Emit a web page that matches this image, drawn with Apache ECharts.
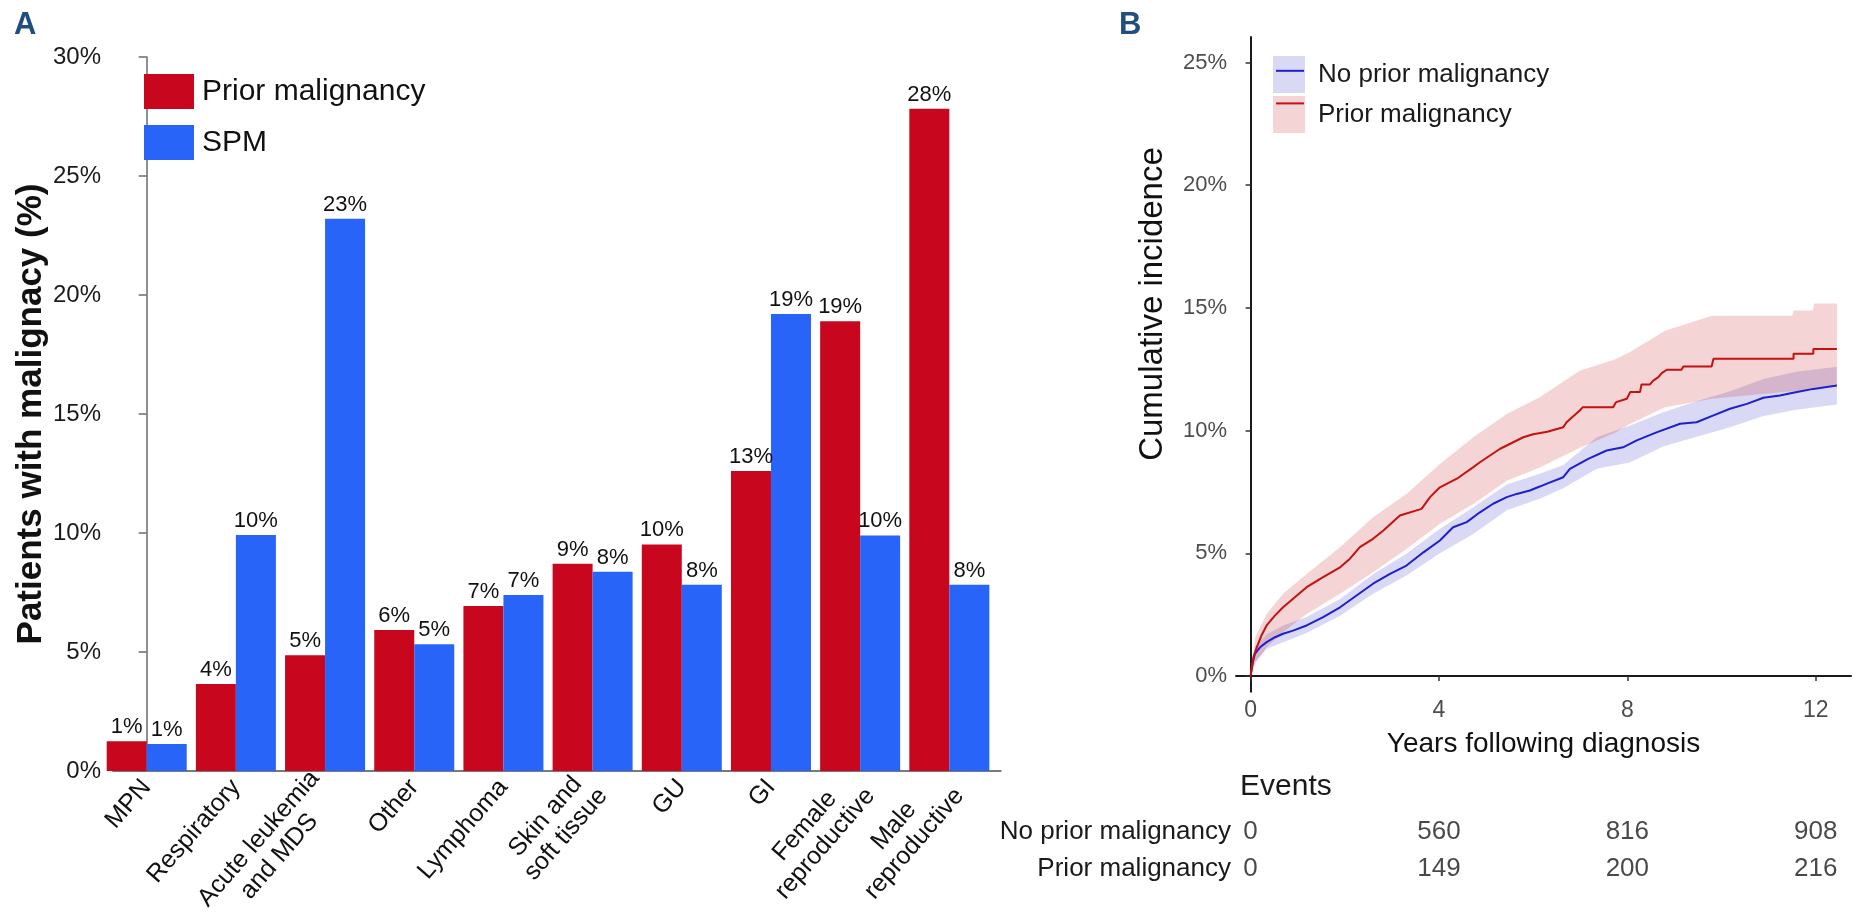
<!DOCTYPE html>
<html>
<head>
<meta charset="utf-8">
<style>
  html, body { margin: 0; padding: 0; width: 100%; height: 100%; overflow: hidden; background: #fff; }
  .panel { position: absolute; left: 0; top: 0; width: 1868px; height: 923px; }
</style>
<script src="https://cdn.jsdelivr.net/npm/echarts@6/dist/echarts.min.js"></script>
</head>
<body>
<div id="chartA" class="panel"></div>
<div id="chartB" class="panel"></div>
<script>
// ---- panel A data ----
const categories = ['MPN', 'Respiratory', 'Acute leukemia\nand MDS', 'Other', 'Lymphoma',
  'Skin and\nsoft tissue', 'GU', 'GI', 'Female\nreproductive', 'Male\nreproductive'];
const priorPct = [1.25, 3.66, 4.86, 5.92, 6.93, 8.71, 9.52, 12.61, 18.9, 27.83];
const spmPct = [1.13, 9.92, 23.2, 5.33, 7.40, 8.37, 7.83, 19.2, 9.9, 7.83];
const barTicks = [0, 5, 10, 15, 20, 25, 30];

// ---- panel B data ----
const yearTicks = [0, 4, 8, 12];
const incTicks = [0, 5, 10, 15, 20, 25];
// [years, cumulative incidence %]
const noPriorCurve = [
  [0, 0], [0.04, 0.5], [0.09, 0.9], [0.2, 1.17], [0.34, 1.38], [0.52, 1.58], [0.69, 1.72],
  [0.9, 1.85], [1.19, 2.06], [1.54, 2.4], [1.9, 2.8], [2.25, 3.28], [2.6, 3.76], [2.96, 4.16],
  [3.31, 4.5], [3.67, 5.04], [4.02, 5.52], [4.3, 6.06], [4.59, 6.27], [4.87, 6.67], [5.15, 7.02],
  [5.44, 7.29], [5.65, 7.42], [5.93, 7.56], [6.14, 7.72], [6.28, 7.83], [6.64, 8.1], [6.78, 8.44],
  [7.17, 8.85], [7.56, 9.19], [7.91, 9.32], [8.2, 9.6], [8.62, 9.93], [9.12, 10.28], [9.47, 10.34],
  [9.83, 10.62], [10.18, 10.89], [10.54, 11.09], [10.89, 11.34], [11.24, 11.43], [11.6, 11.57],
  [11.95, 11.7], [12.45, 11.84]
];
const priorCurve = [
  [0, 0], [0.06, 0.77], [0.13, 1.17], [0.23, 1.65], [0.34, 2.06], [0.52, 2.47], [0.69, 2.8],
  [0.94, 3.21], [1.19, 3.62], [1.54, 4.03], [1.9, 4.43], [2.11, 4.78], [2.32, 5.25], [2.6, 5.59],
  [2.82, 5.93], [3.17, 6.54], [3.63, 6.81], [3.81, 7.29], [4.02, 7.69], [4.38, 8.04], [4.73, 8.51],
  [4.87, 8.71], [5.3, 9.26], [5.79, 9.73], [6.0, 9.85], [6.3, 9.95], [6.64, 10.14], [6.71, 10.34],
  [6.99, 10.82], [7.05, 10.95], [7.7, 10.95], [7.76, 11.16], [7.99, 11.3], [8.06, 11.57],
  [8.27, 11.57], [8.3, 11.88], [8.48, 11.88], [8.55, 12.04], [8.66, 12.18], [8.73, 12.34],
  [8.84, 12.48], [9.15, 12.48], [9.19, 12.61], [9.79, 12.61], [9.83, 12.93], [11.53, 12.93],
  [11.53, 13.13], [11.95, 13.13], [11.95, 13.33], [12.45, 13.33]
];
// [years, lower %, upper %]
const noPriorBand = [
  [0, 0, 0], [0.1, 0.6, 1.2], [0.34, 1.1, 1.7], [0.69, 1.38, 2.06], [1.19, 1.75, 2.4],
  [1.9, 2.46, 3.14], [2.6, 3.35, 4.15], [3.31, 4.1, 4.98], [4.02, 5.0, 6.0], [4.73, 5.79, 6.88],
  [5.44, 6.75, 7.8], [6.14, 7.22, 8.24], [6.64, 7.65, 8.6], [7.35, 8.45, 9.73], [8.05, 8.7, 10.2],
  [8.76, 9.35, 10.75], [9.47, 9.75, 11.2], [10.18, 10.14, 11.6], [10.89, 10.6, 12.1],
  [11.59, 10.85, 12.4], [12.45, 11.06, 12.6]
];
const priorBand = [
  [0, 0, 0], [0.1, 0.5, 1.6], [0.34, 1.17, 2.53], [0.69, 1.78, 3.35], [1.19, 2.53, 4.16],
  [1.9, 3.35, 5.25], [2.6, 4.23, 6.47], [3.31, 5.18, 7.42], [4.02, 6.2, 8.64], [4.73, 7.01, 9.73],
  [5.44, 7.96, 10.68], [6.14, 8.5, 11.36], [6.99, 9.3, 12.44], [7.73, 9.9, 12.9], [8.05, 10.27, 13.19],
  [8.8, 10.95, 14.07], [9.5, 11.2, 14.5], [9.8, 11.3, 14.68], [11.5, 11.6, 14.68], [11.53, 11.6, 14.89],
  [11.94, 11.7, 14.89], [11.97, 11.7, 15.18], [12.45, 11.8, 15.18]
];
const eventRows = ['No prior malignancy', 'Prior malignancy'];
const eventsNoPrior = [0, 560, 816, 908];
const eventsPrior = [0, 149, 200, 216];

const FONT = 'Liberation Sans, Arial, sans-serif';
const RED = '#C8071E';
const BLUE = '#2864F8';
const LINE_BLUE = '#1F1FCC';
const LINE_RED = '#C41212';
const FILL_BLUE = 'rgba(31, 31, 204, 0.17)';
const FILL_RED = 'rgba(196, 18, 18, 0.18)';

// ================= panel A =================
var chartA = echarts.init(document.getElementById('chartA'), null, { renderer: 'canvas' });

var optionA = {
  animation: false,
  textStyle: { fontFamily: FONT },
  title: {
    text: 'A', left: 14, top: 10, padding: 0,
    textStyle: { fontSize: 31, fontWeight: 'bold', color: '#1F4E7F', fontFamily: FONT }
  },
  legend: {
    data: ['Prior malignancy', 'SPM'],
    orient: 'vertical', left: 144, top: 74, padding: 0,
    icon: 'rect', itemWidth: 50, itemHeight: 35, itemGap: 16,
    selectedMode: false,
    textStyle: { fontSize: 30, color: '#111', fontFamily: FONT, padding: [0, 0, 0, 3] }
  },
  grid: { left: 113, top: 57, width: 887.7, height: 714, outerBoundsMode: 'none', containLabel: false },
  xAxis: {
    type: 'value', min: -0.378, max: 9.576,
    splitLine: { show: false },
    axisTick: { show: false },
    axisLine: { show: true, lineStyle: { color: '#7a7a7a', width: 2 } },
    axisLabel: {
      customValues: categories.map((c, i) => i),
      rotate: 49, margin: 12,
      formatter: function (v) {
        const name = categories[Math.round(v)];
        if (name === undefined) return '';
        return name.split('\n').map(s => '{c|' + s + '}').join('\n');
      },
      rich: { c: { align: 'center', fontSize: 25, lineHeight: 27, color: '#111', fontFamily: FONT } }
    }
  },
  yAxis: {
    type: 'value', min: 0, max: 30, interval: 5,
    splitLine: { show: false },
    axisLine: { show: true, lineStyle: { color: '#6b6b6b', width: 1.5 } },
    axisTick: { show: true, length: 8, lineStyle: { color: '#6b6b6b', width: 1.5 } },
    axisLabel: {
      customValues: barTicks,
      formatter: '{value}%', fontSize: 24, color: '#1a1a1a', margin: 12, fontFamily: FONT
    },
    name: 'Patients with malignacy (%)', nameLocation: 'middle', nameGap: 64,
    nameTextStyle: { fontSize: 35, fontWeight: 'bold', color: '#111', fontFamily: FONT }
  },
  series: [
    {
      name: 'Prior malignancy', type: 'bar', barWidth: 40, barGap: '0%', clip: true,
      itemStyle: { color: RED },
      data: priorPct.map((v, i) => [i, v]),
      label: {
        show: true, position: 'top', distance: 3, fontSize: 22, color: '#111', fontFamily: FONT,
        formatter: p => Math.round(p.value[1]) + '%'
      }
    },
    {
      name: 'SPM', type: 'bar', barWidth: 40, barGap: '0%', clip: true,
      itemStyle: { color: BLUE },
      data: spmPct.map((v, i) => [i, v]),
      label: {
        show: true, position: 'top', distance: 3, fontSize: 22, color: '#111', fontFamily: FONT,
        formatter: p => Math.round(p.value[1]) + '%'
      }
    }
  ]
};
chartA.setOption(optionA);

// ================= panel B =================
var chartB = echarts.init(document.getElementById('chartB'), null, { renderer: 'canvas' });

// confidence band drawn as one polygon through the axis scales
function bandSeries(name, band, fill) {
  return {
    name: name, type: 'custom', silent: true, clip: true,
    xAxisIndex: 0, yAxisIndex: 0,
    data: [[0, 0]],
    encode: { x: 0, y: 1 },
    renderItem: function (params, api) {
      const upper = band.map(d => api.coord([d[0], d[2]]));
      const lower = band.slice().reverse().map(d => api.coord([d[0], d[1]]));
      return {
        type: 'polygon',
        shape: { points: upper.concat(lower) },
        style: { fill: fill }
      };
    }
  };
}

var eventData = [];
yearTicks.forEach((yr, i) => {
  eventData.push([yr, eventRows[0], eventsNoPrior[i]]);
  eventData.push([yr, eventRows[1], eventsPrior[i]]);
});

var optionB = {
  animation: false,
  textStyle: { fontFamily: FONT },
  title: [
    {
      text: 'B', left: 1119, top: 10, padding: 0,
      textStyle: { fontSize: 31, fontWeight: 'bold', color: '#1F4E7F', fontFamily: FONT }
    },
    {
      text: 'Events', left: 1240, top: 772, padding: 0,
      textStyle: { fontSize: 30, fontWeight: 'normal', color: '#1a1a1a', fontFamily: FONT }
    }
  ],
  legend: [
    {
      data: [
        { name: 'No prior malignancy', icon: 'rect', itemStyle: { color: FILL_BLUE } },
        { name: 'Prior malignancy', icon: 'rect', itemStyle: { color: FILL_RED } }
      ],
      orient: 'vertical', left: 1273, top: 56, padding: 0,
      itemWidth: 32, itemHeight: 37, itemGap: 3, selectedMode: false,
      textStyle: { fontSize: 26, color: '#1a1a1a', fontFamily: FONT, padding: [0, 0, 0, 8] }
    },
    {
      data: [
        { name: 'No prior malignancy', itemStyle: { color: 'rgba(0,0,0,0)', borderWidth: 0 } },
        { name: 'Prior malignancy', itemStyle: { color: 'rgba(0,0,0,0)', borderWidth: 0 } }
      ],
      orient: 'vertical', left: 1275, top: 56, padding: 0,
      itemWidth: 28, itemHeight: 37, itemGap: 3, selectedMode: false,
      textStyle: { fontSize: 26, color: 'rgba(0,0,0,0)', fontFamily: FONT }
    }
  ],
  graphic: [
    {
      type: 'text', x: 1153, y: 304, rotation: Math.PI / 2,
      style: {
        text: 'Cumulative incidence', align: 'center', verticalAlign: 'middle',
        fontSize: 33, fontFamily: FONT, fill: '#111'
      }
    }
  ],
  grid: [
    { left: 1236, top: 37, width: 615, height: 654.7, outerBoundsMode: 'none', containLabel: false },
    { left: 1236, top: 813, width: 615, height: 74, outerBoundsMode: 'none', containLabel: false }
  ],
  xAxis: [
    {
      type: 'value', min: -0.31, max: 12.75, gridIndex: 0,
      splitLine: { show: false },
      axisLine: { show: true, lineStyle: { color: '#1a1a1a', width: 2 } },
      axisTick: { show: true, customValues: yearTicks, length: 5, lineStyle: { color: '#333', width: 1.5 } },
      axisLabel: { customValues: yearTicks, fontSize: 23, color: '#4d4d4d', margin: 7, fontFamily: FONT },
      name: 'Years following diagnosis', nameLocation: 'middle', nameGap: 39,
      nameTextStyle: { fontSize: 28, color: '#111', fontFamily: FONT }
    },
    {
      type: 'value', min: -0.31, max: 12.75, gridIndex: 1, show: false
    }
  ],
  yAxis: [
    {
      type: 'value', min: -0.64, max: 26.04, gridIndex: 0,
      splitLine: { show: false },
      axisLine: { show: true, lineStyle: { color: '#1a1a1a', width: 2 } },
      axisTick: { show: true, customValues: incTicks, length: 5, lineStyle: { color: '#333', width: 1.5 } },
      axisLabel: {
        customValues: incTicks, formatter: '{value}%',
        fontSize: 22, color: '#4d4d4d', margin: 9, fontFamily: FONT
      }
    },
    {
      type: 'category', data: eventRows, inverse: true, gridIndex: 1,
      axisLine: { show: false }, axisTick: { show: false },
      axisLabel: { fontSize: 26, color: '#1a1a1a', margin: 5, fontFamily: FONT }
    }
  ],
  series: [
    bandSeries('nb', noPriorBand, FILL_BLUE),
    bandSeries('pb', priorBand, FILL_RED),
    {
      name: 'No prior malignancy', type: 'line', symbol: 'none',
      lineStyle: { color: LINE_BLUE, width: 2 }, itemStyle: { color: LINE_BLUE },
      data: noPriorCurve
    },
    {
      name: 'Prior malignancy', type: 'line', symbol: 'none',
      lineStyle: { color: LINE_RED, width: 2 }, itemStyle: { color: LINE_RED },
      data: priorCurve
    },
    {
      name: 'events', type: 'scatter', xAxisIndex: 1, yAxisIndex: 1,
      symbolSize: 1, itemStyle: { color: 'rgba(0,0,0,0)' }, silent: true,
      data: eventData,
      label: {
        show: true, position: 'inside', fontSize: 26, color: '#1a1a1a', fontFamily: FONT,
        formatter: p => String(p.value[2])
      }
    }
  ]
};
chartB.setOption(optionB);

window.addEventListener('resize', function () { chartA.resize(); chartB.resize(); });
</script>
</body>
</html>
